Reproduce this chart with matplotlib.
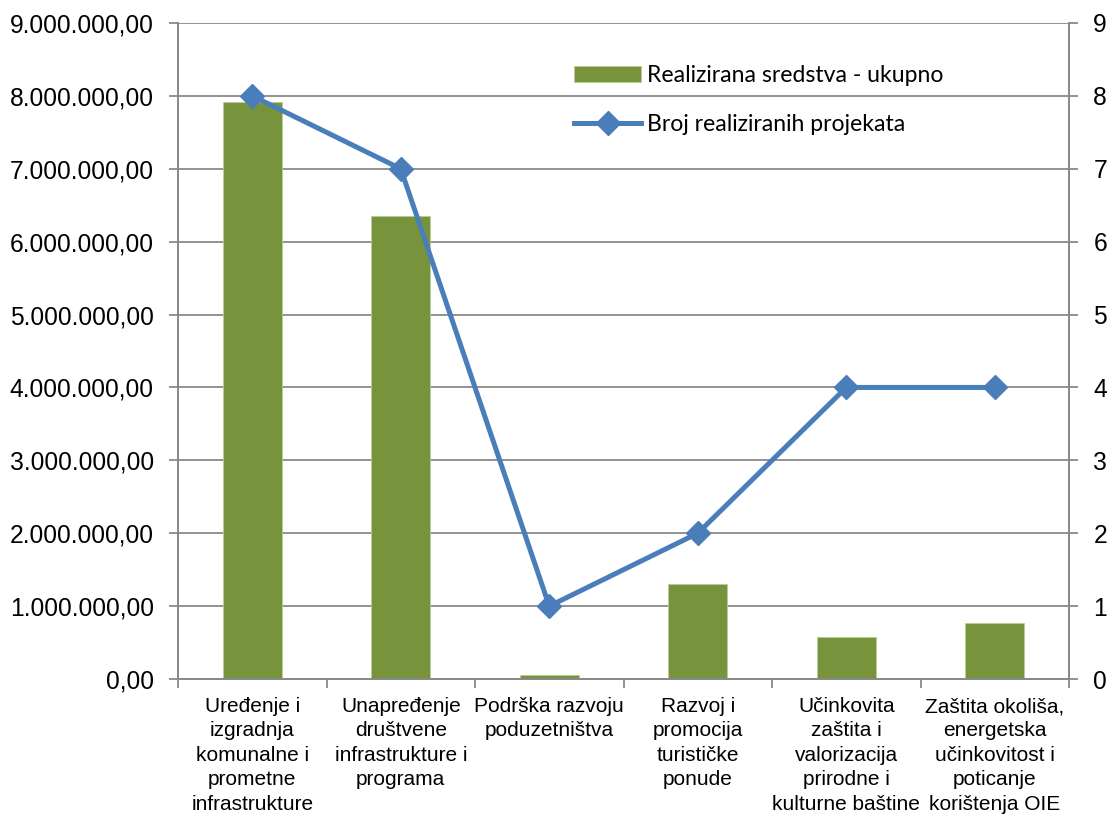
import matplotlib
matplotlib.use("Agg")
import matplotlib.pyplot as plt
from matplotlib.ticker import FuncFormatter, FixedLocator
import numpy as np

categories = [
    "Uređenje i\nizgradnja\nkomunalne i\nprometne\ninfrastrukture",
    "Unapređenje\ndruštvene\ninfrastrukture i\nprograma",
    "Podrška razvoju\npoduzetništva",
    "Razvoj i\npromocija\nturističke\nponude",
    "Učinkovita\nzaštita i\nvalorizacija\nprirodne i\nkulturne baštine",
    "Zaštita okoliša,\nenergetska\nučinkovitost i\npoticanje\nkorištenja OIE",
]
sredstva = [7920000, 6350000, 55000, 1300000, 580000, 770000]
projekti = [8, 7, 1, 2, 4, 4]

bar_color = "#77933C"
line_color = "#4A7EBB"
axis_color = "#898989"

fig = plt.figure(figsize=(11.07, 8.18), dpi=100)
ax = fig.add_axes([0.1608, 0.1699, 0.8049, 0.8020])
ax2 = ax.twinx()

x = np.arange(len(categories))
ax.bar(x, sredstva, width=0.40, color=bar_color, edgecolor="#B9CD96", linewidth=0.6,
       label="Realizirana sredstva - ukupno", zorder=2)
ax.set_xlim(-0.5, len(categories) - 0.5)
ax.set_ylim(0, 9000000)
ax.set_yticks(np.arange(0, 9000001, 1000000))

def fmt(v, pos):
    s = f"{v:,.2f}"
    return s.replace(",", "X").replace(".", ",").replace("X", ".")
ax.yaxis.set_major_formatter(FuncFormatter(fmt))
ax.grid(axis="y", color=axis_color, linewidth=1.3, zorder=0)
ax.set_axisbelow(True)

ax2.plot(x, projekti, color=line_color, linewidth=3.6, marker="D", markersize=12,
         label="Broj realiziranih projekata", zorder=3)
ax2.set_ylim(0, 9)
ax2.set_yticks(range(0, 10))

ax.set_xticks(x)
ax.set_xticklabels(categories, fontsize=15, family="Liberation Sans", va="top",
                   linespacing=1.36)
ax.xaxis.set_minor_locator(FixedLocator(np.arange(-0.5, len(categories), 1.0)))
ax.tick_params(axis="x", which="major", length=0, pad=13)
ax.tick_params(axis="x", which="minor", length=6.5, color=axis_color, width=1.3)

for a in (ax, ax2):
    for sp in a.spines.values():
        sp.set_color(axis_color)
        sp.set_linewidth(1.3)
    a.spines["top"].set_visible(False)
ax.tick_params(axis="y", length=6.5, color=axis_color, width=1.3, labelsize=17.7, pad=11)
ax2.tick_params(axis="y", length=6.5, color=axis_color, width=1.3, labelsize=17.7, pad=11)
for lab in ax.get_yticklabels() + ax2.get_yticklabels():
    lab.set_family("Liberation Sans")

h1, l1 = ax.get_legend_handles_labels()
h2, l2 = ax2.get_legend_handles_labels()
leg = ax.legend(h1 + h2, l1 + l2, loc="upper left", bbox_to_anchor=(0.4215, 0.967),
                frameon=False, handlelength=2.9, handletextpad=0.25,
                labelspacing=1.2, prop={"family": "Lato", "size": 16.6})
leg.set_zorder(5)

fig.savefig("out.png", dpi=100)
